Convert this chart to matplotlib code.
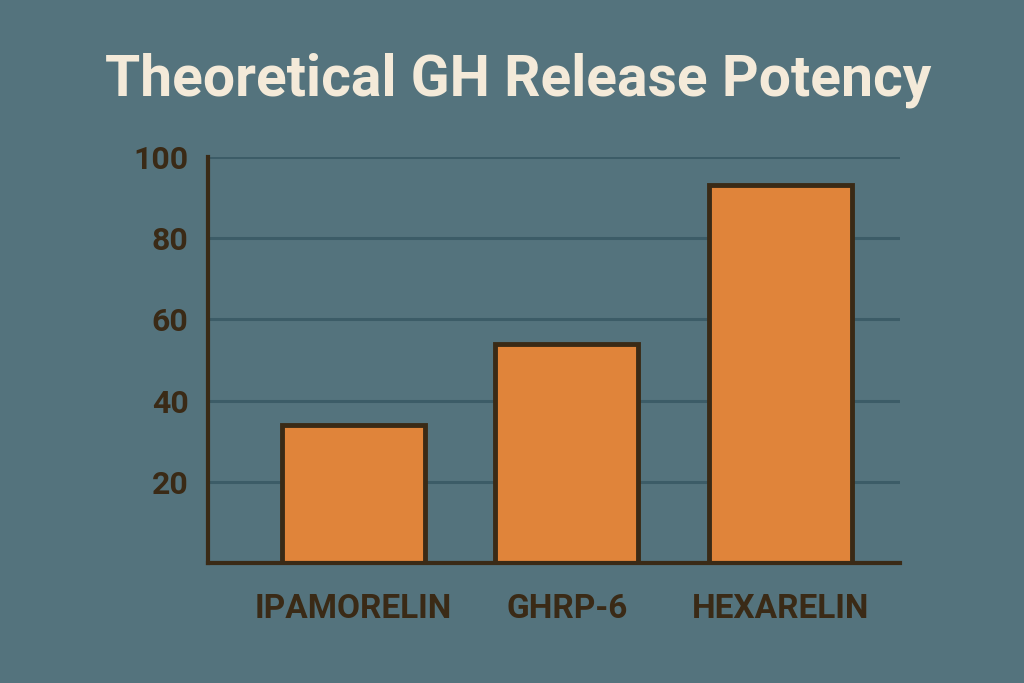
import matplotlib.pyplot as plt
import numpy as np

peptides = ['IPAMORELIN', 'GHRP-6', 'HEXARELIN']
potency = [34, 54, 93]
yticks = [20, 40, 60, 80, 100]

bg = '#54737d'
brown = '#3a2a16'

fig = plt.figure(figsize=(10.24, 6.83), dpi=100, facecolor=bg)
ax = fig.add_axes([0.203, 0.176, 0.676, 0.594])
ax.set_facecolor(bg)

x = np.arange(len(peptides))
ax.bar(x, potency, width=0.67, color='#e0843a', edgecolor=brown, linewidth=3.5, zorder=3)

ax.set_ylim(0, 100)
ax.set_xlim(-0.68, 2.56)
ax.set_yticks(yticks)
ax.set_yticklabels([str(v) for v in yticks], fontsize=23, fontweight='bold',
                   color=brown, family=['Liberation Sans Narrow', 'Roboto', 'DejaVu Sans'])
ax.set_xticks(x)
ax.set_xticklabels(peptides, fontsize=24, fontweight='bold', color=brown,
                   family=['Liberation Sans Narrow', 'Roboto', 'DejaVu Sans'])
ax.tick_params(length=0, pad=14)
ax.tick_params(axis='x', pad=22)
ax.yaxis.grid(True, color='#3c5c67', linewidth=2.2, zorder=0)

for s in ['top', 'right']:
    ax.spines[s].set_visible(False)
for s in ['left', 'bottom']:
    ax.spines[s].set_color(brown)
    ax.spines[s].set_linewidth(3)
    ax.spines[s].set_zorder(4)

fig.text(0.506, 0.882, 'Theoretical GH Release Potency', ha='center', va='center',
         fontsize=41, fontweight='bold', color='#f4ead9', family=['Roboto', 'DejaVu Sans'])

fig.savefig('out.png', dpi=100, facecolor=bg)
